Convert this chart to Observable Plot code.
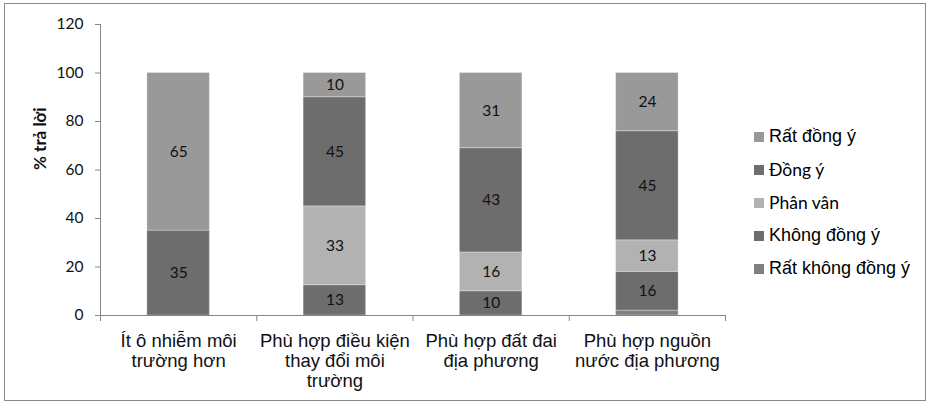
<!DOCTYPE html>
<html><head><meta charset="utf-8">
<script src="https://cdn.jsdelivr.net/npm/d3@7"></script>
<script src="https://cdn.jsdelivr.net/npm/@observablehq/plot@0.6"></script>
<style>
body{margin:0;background:#fff;}
#wrap{position:relative;width:930px;height:404px;background:#fff;}
#frame{position:absolute;left:4px;top:3px;width:922px;height:398px;border:1px solid #8a8a8a;box-sizing:border-box;pointer-events:none;}
#legend{position:absolute;left:754px;top:120px;color:#000;}
.item{height:33px;display:flex;align-items:center;white-space:nowrap;}
.sw{width:10px;height:10px;margin-right:5px;flex:none;}
</style></head><body>
<div id="wrap"><div id="frame"></div><div id="legend"></div></div>
<script>
const categories = ["Ít ô nhiễm môi trường hơn", "Phù hợp điều kiện thay đổi môi trường", "Phù hợp đất đai địa phương", "Phù hợp nguồn nước địa phương"];
const categoryLabels = ["Ít ô nhiễm môi\ntrường hơn", "Phù hợp điều kiện\nthay đổi môi\ntrường", "Phù hợp đất đai\nđịa phương", "Phù hợp nguồn\nnước địa phương"];
// stacked bottom -> top
const responses = ["Rất không đồng ý", "Không đồng ý", "Phân vân", "Đồng ý", "Rất đồng ý"];
const ratKhongDongY = [0, 0, 0, 2];
const khongDongY = [0, 12.5, 10, 16];
const phanVan = [0, 32.5, 16, 13];
const dongY = [35, 45, 43, 45];
const ratDongY = [65, 10, 31, 24];
const yTicks = [0, 20, 40, 60, 80, 100, 120];
const yTitle = "% trả lời";

const colors = ["#7f7f7f", "#6d6d6d", "#b2b2b2", "#6d6d6d", "#999999"];
const series = [ratKhongDongY, khongDongY, phanVan, dongY, ratDongY];

const rows = [];
categories.forEach((c, i) => {
  let acc = 0;
  series.forEach((s, r) => {
    const v = s[i];
    if (v > 0) rows.push({cat: c, i, r, resp: responses[r], value: v, y1: acc, y2: acc + v});
    acc += v;
  });
});
const fmt = d3.format(".0f");
const axisColor = "#868686";

const plot = Plot.plot({
  width: 930, height: 404,
  marginLeft: 100, marginRight: 205, marginTop: 24, marginBottom: 89,
  x: {type: "linear", domain: [0, categories.length]},
  y: {domain: [0, 120]},
  color: {domain: responses, range: colors},
  style: {background: "transparent", fontFamily: "Lato", color: "#000", overflow: "visible"},
  marks: [
    Plot.rect(rows, {x1: d => d.i + 0.3, x2: d => d.i + 0.7, y1: "y1", y2: "y2", fill: "resp", stroke: "#fff", strokeOpacity: 0.3, strokeWidth: 1}),
    Plot.text(rows.filter(d => d.value >= 5), {x: d => d.i + 0.5, y: d => (d.y1 + d.y2) / 2, text: d => fmt(d.value), fontSize: 15.5, fill: "#111"}),
    Plot.axisY({ticks: yTicks, tickSize: 5, tickPadding: 12, stroke: axisColor, fill: "#111", fontSize: 15.5, label: null}),
    Plot.axisX({ticks: d3.range(categories.length + 1), tickSize: 6, tickFormat: () => "", stroke: axisColor, label: null}),
    Plot.axisX({ticks: categories.map((c, i) => i + 0.5), tickSize: 0, tickPadding: 17, tickFormat: d => categoryLabels[Math.floor(d)], fontSize: 18.5, fontFamily: "Liberation Sans", lineHeight: 1.08, fill: "#111", label: null}),
    Plot.ruleX([0], {stroke: axisColor}),
    Plot.ruleY([0], {stroke: axisColor}),
    Plot.text([yTitle], {text: d => d, frameAnchor: "left", dx: -60, rotate: -90, fontWeight: "bold", fontSize: 17, fill: "#111"})
  ]
});
document.getElementById("wrap").prepend(plot);

const legendFonts = {
  "Rất đồng ý": "18px 'Liberation Sans'",
  "Đồng ý": "17.5px Lato",
  "Phân vân": "17.5px Lato",
  "Không đồng ý": "18px 'Liberation Sans'",
  "Rất không đồng ý": "18px 'Liberation Sans'"
};
const legend = document.getElementById("legend");
responses.slice().reverse().forEach(r => {
  const item = document.createElement("div");
  item.className = "item";
  const sw = document.createElement("span");
  sw.className = "sw";
  sw.style.background = colors[responses.indexOf(r)];
  const t = document.createElement("span");
  t.textContent = r;
  t.style.font = legendFonts[r];
  item.append(sw, t);
  legend.append(item);
});
</script>
</body></html>
